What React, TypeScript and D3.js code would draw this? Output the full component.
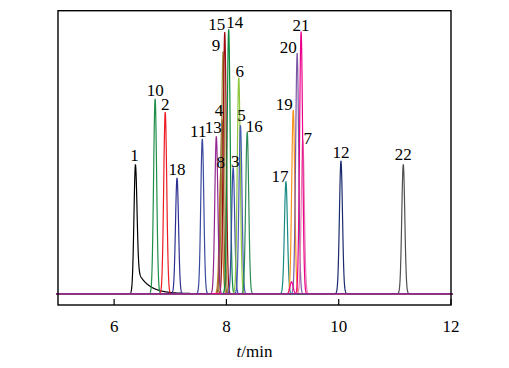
import React from "react";
import * as d3 from "d3";

// peak data (retention time in min, height in a.u.)
const peakIds = ["1", "10", "2", "18", "11", "13", "8", "4", "9", "15", "14", "3", "6", "5", "16", "17", "19", "20", "7", "12", "22", "21"];
const peakTimes = [6.38, 6.73, 6.91, 7.12, 7.57, 7.82, 7.9, 7.92, 7.94, 7.97, 8.04, 8.12, 8.22, 8.25, 8.37, 9.06, 9.19, 9.26, 9.36, 10.04, 11.15, 9.33];
const peakHeights = [45.6, 68.9, 64.2, 40.9, 54.7, 55.6, 43.1, 61.5, 85.6, 92.5, 93.5, 44.6, 76.4, 59.5, 57.1, 39.6, 65.0, 85.1, 54.4, 46.9, 45.7, 92.6];
// tailing (fraction, decay in min) - only peak 1 tails
const peakTailFrac = [0.21, 0, 0, 0, 0, 0, 0, 0, 0, 0, 0, 0, 0, 0, 0, 0, 0, 0, 0, 0, 0, 0];
const peakTailTau = [0.2, 0, 0, 0, 0, 0, 0, 0, 0, 0, 0, 0, 0, 0, 0, 0, 0, 0, 0, 0, 0, 0];
// small side peaks that belong to a trace
const sideIds = ["12", "21"];
const sideTimes = [10.05, 9.16];
const sideHeights = [22, 4.2];

const xTicks = [6, 8, 10, 12];

const colors: Record<string, string> = {
  "1": "#000000", "2": "#ed1c24", "3": "#3b4ba8", "4": "#8b5a2b", "5": "#4a5db5",
  "6": "#8dc63f", "7": "#e57fb0", "8": "#c8782a", "9": "#9a8a3a", "10": "#1f8f4a",
  "11": "#3a4a9f", "12": "#1b2a6e", "13": "#92278f", "14": "#0b8a3e", "15": "#9e0b0f",
  "16": "#2e8b57", "17": "#1a8c84", "18": "#2e3192", "19": "#f7941d", "20": "#7b5ba6",
  "21": "#ec008c", "22": "#505050",
};

// label placement relative to the apex (px)
const labelDx = [-1, 0, 0, 0, -4, -3, 0, -3, -7, -8, 6, 2, 1, 1, 7, -6, -9, -9, 5, 0, 0, 0];
const labelDy = [-4, -3, -2, -3, -2, -3, -4, -4, 0, -2, -1, 0, 0, -4, 0, 0, 0, 0, 4, -3, -4, -1];

const SIGMA = 0.027;

function shape(t: number, t0: number, h: number, frac: number, tau: number) {
  const d = t - t0;
  const g = Math.exp(-(d * d) / (2 * SIGMA * SIGMA));
  if (d <= 0 || frac === 0) return h * g;
  return h * ((1 - frac) * g + frac * Math.exp(-d / tau));
}

const App = () => {
  const width = 509;
  const height = 368;
  const left = 58, right = 451, top = 10.7, bottom = 305;

  const x = d3.scaleLinear().domain([5, 12]).range([left, right]);
  const y = d3.scaleLinear().domain([-4, 100]).range([bottom, top]);

  const ts = d3.range(4.97, 12.03, 0.004);
  const line = d3.line<[number, number]>().x((d) => x(d[0])).y((d) => y(d[1]));

  // draw order so the purple trace sits on top of the baseline
  const order = peakIds.map((_, i) => i).filter((i) => peakIds[i] !== "13");
  order.push(peakIds.indexOf("13"));

  const traces = order.map((i) => {
    const id = peakIds[i];
    const pts: [number, number][] = ts.map((t) => {
      let v = shape(t, peakTimes[i], peakHeights[i], peakTailFrac[i], peakTailTau[i]);
      sideIds.forEach((s, k) => {
        if (s === id) v = Math.max(v, shape(t, sideTimes[k], sideHeights[k], 0, 0));
      });
      return [t, v];
    });
    return { id, d: line(pts) || "" };
  });

  const font = "'Liberation Serif', 'Times New Roman', serif";

  return (
    <svg width={width} height={height} style={{ position: "absolute", left: 0, top: 0 }}>
      <rect width={width} height={height} fill="#fff" />
      {traces.map((tr) => (
        <path key={tr.id} d={tr.d} fill="none" stroke={colors[tr.id]} strokeWidth={1.2} />
      ))}
      <rect x={left} y={top} width={right - left} height={bottom - top} fill="none" stroke="#000" strokeWidth={1.4} />
      {xTicks.map((t) => (
        <g key={t}>
          <line x1={x(t)} x2={x(t)} y1={bottom} y2={bottom - 6} stroke="#000" strokeWidth={1.2} />
          <text x={x(t)} y={332} textAnchor="middle" fontFamily={font} fontSize={17}>{t}</text>
        </g>
      ))}
      {peakIds.map((id, i) => (
        <text key={"l" + id} x={x(peakTimes[i]) + labelDx[i]} y={y(peakHeights[i]) + labelDy[i]}
          textAnchor="middle" fontFamily={font} fontSize={17}>{id}</text>
      ))}
      <text x={(left + right) / 2} y={357} textAnchor="middle" fontFamily={font} fontSize={17}>
        <tspan fontStyle="italic">t</tspan>/min
      </text>
    </svg>
  );
};

export default App;
